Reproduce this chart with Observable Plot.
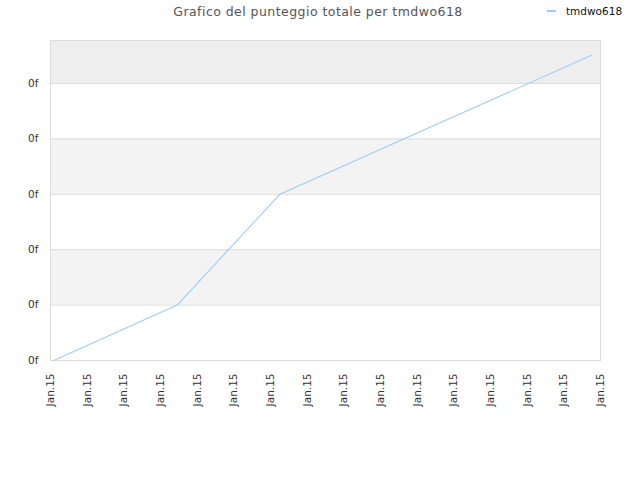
<!DOCTYPE html>
<html>
<head>
<meta charset="utf-8">
<script src="https://cdn.jsdelivr.net/npm/d3@7"></script>
<script src="https://cdn.jsdelivr.net/npm/@observablehq/plot@0.6"></script>
<style>
  body { margin: 0; background: #fff; font-family: "DejaVu Sans", sans-serif; }
  #wrap { position: relative; width: 640px; height: 480px; overflow: hidden; }
  #header { position: relative; width: 640px; height: 30px; }
  #title { position: absolute; left: 0; width: 636px; top: 4px; text-align: center; font-size: 12.5px; letter-spacing: 0.45px; color: #555; }
  #legend { position: absolute; left: 547px; top: 5px; font-size: 10.5px; color: #111; display: flex; align-items: center; }
  #legend .sw { width: 9px; height: 0; border-top: 2px solid #9ecbf5; margin-right: 10px; }
  svg { display: block; }
</style>
</head>
<body>
<div id="wrap">
  <div id="header">
    <div id="title">Grafico del punteggio totale per tmdwo618</div>
    <div id="legend"><span class="sw"></span><span>tmdwo618</span></div>
  </div>
  <div id="chart"></div>
</div>
<script>
// Data
const seriesName = "tmdwo618";
const xValues = [0.09, 3.455, 6.255, 14.755];
const yValues = [0, 1, 3, 5.51];
const xTicks = d3.range(0, 16);
const xTickLabel = "Jan.15";
const yTicks = [0, 1, 2, 3, 4, 5];
const yTickLabel = "0f";
const yMax = 5.776;
// background bands (lower, upper bound)
const bandLow = [1, 3, 5];
const bandHigh = [2, 4, yMax];

const points = xValues.map((x, i) => ({x, y: yValues[i], series: seriesName}));
const bands = bandLow.map((lo, i) => ({y1: lo, y2: bandHigh[i], top: bandHigh[i] === yMax}));

const chart = Plot.plot({
  width: 640,
  height: 450,
  marginTop: 10,
  marginBottom: 120,
  marginLeft: 50,
  marginRight: 40,
  style: {fontFamily: "DejaVu Sans, sans-serif", fontSize: "10px", color: "#333", background: "#fff"},
  x: {domain: [0, 15], ticks: xTicks, tickFormat: () => xTickLabel, tickRotate: -90, tickSize: 0, tickPadding: 13, label: null},
  y: {domain: [0, yMax], ticks: yTicks, tickFormat: () => yTickLabel, tickSize: 0, tickPadding: 12, label: null},
  marks: [
    Plot.rectY(bands, {x1: 0, x2: 15, y1: "y1", y2: "y2", fill: d => d.top ? "#eeeeee" : "#f3f3f3"}),
    Plot.ruleY(yTicks.slice(1), {stroke: "#dddddd", strokeWidth: 1}),
    Plot.frame({stroke: "#dcdcdc"}),
    Plot.line(points, {x: "x", y: "y", stroke: "#9ecbf5", strokeWidth: 1.1}),
    Plot.axisX({ticks: xTicks, tickFormat: () => xTickLabel, tickRotate: -90, tickSize: 0, tickPadding: 13, label: null, fill: "#333", fontSize: 10.5}),
    Plot.axisY({ticks: yTicks, tickFormat: () => yTickLabel, tickSize: 0, tickPadding: 12, label: null, fill: "#333", fontSize: 10.5})
  ]
});
document.getElementById("chart").appendChild(chart);
</script>
</body>
</html>
